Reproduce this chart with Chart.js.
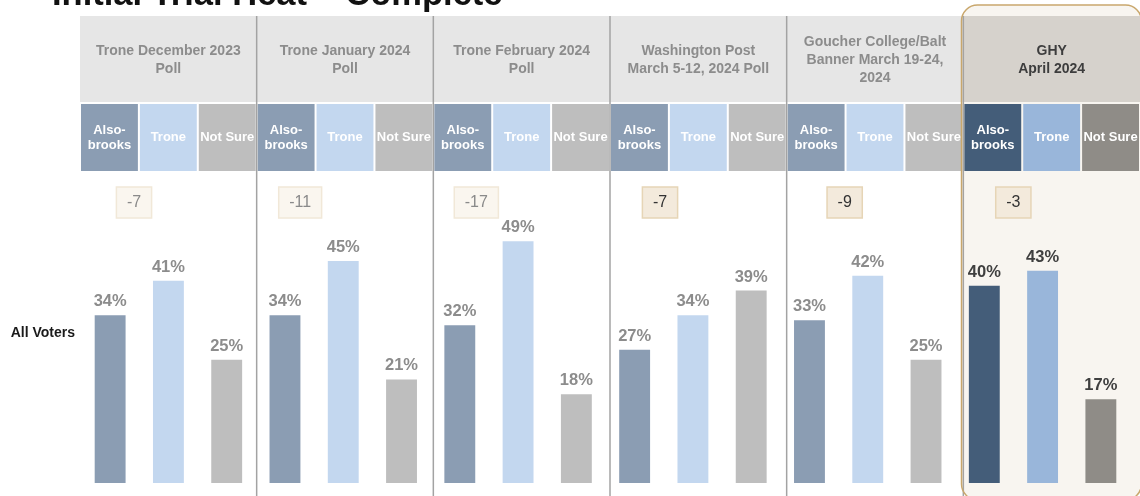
<!DOCTYPE html>
<html>
<head>
<meta charset="utf-8">
<script src="https://cdn.jsdelivr.net/npm/chart.js@4.4.1/dist/chart.umd.min.js"></script>
<style>
  html, body { margin: 0; padding: 0; background: #fff; }
  canvas { display: block; }
</style>
</head>
<body>
<canvas id="graficaEncuestas" width="1140" height="496"></canvas>
<script>
const titulo = 'Initial Trial Heat – Complete';
const etiquetaFila = 'All Voters';
const encuestas = [
    ['Trone December 2023', 'Poll'],
    ['Trone January 2024', 'Poll'],
    ['Trone February 2024', 'Poll'],
    ['Washington Post', 'March 5-12, 2024 Poll'],
    ['Goucher College/Balt', 'Banner March 19-24,', '2024'],
    ['GHY', 'April 2024']
];
const candidatos = [['Also-', 'brooks'], ['Trone'], ['Not Sure']];
const alsobrooks = [34, 34, 32, 27, 33, 40];
const trone = [41, 45, 49, 34, 42, 43];
const noSeguro = [25, 21, 18, 39, 25, 17];
const margenes = [-7, -11, -17, -7, -9, -3];

// colores: encuestas normales y la de GHY (resaltada)
const coloresNormal = ['#8b9db3', '#c3d7ef', '#bebebe'];
const coloresGHY = ['#445d79', '#99b6da', '#8f8c87'];
const esGHY = i => i === encuestas.length - 1;
const colorBarra = (serie) => encuestas.map((e, i) => esGHY(i) ? coloresGHY[serie] : coloresNormal[serie]);

// geometria de la cabecera
const CAB_IZQ = 80, CAB_DER = 1140;
const FILA1 = [16, 102], FILA2 = [104, 171];
const desplazCaja = [54, 43.5, 43, 50, 58, 50];
const FUENTE = '"Liberation Sans", Arial, sans-serif';

function roundRect(ctx, x, y, w, h, r) {
    ctx.beginPath();
    ctx.moveTo(x + r, y);
    ctx.arcTo(x + w, y, x + w, y + h, r);
    ctx.arcTo(x + w, y + h, x, y + h, r);
    ctx.arcTo(x, y + h, x, y, r);
    ctx.arcTo(x, y, x + w, y, r);
    ctx.closePath();
}

const panel = { x: 961.5, y: 5, w: 180, h: 495, r: 16 };

const fondo = {
    id: 'fondo',
    beforeDraw(chart) {
        const ctx = chart.ctx;
        const anchoGrupo = (CAB_DER - CAB_IZQ) / encuestas.length;
        const anchoSub = anchoGrupo / 3;
        ctx.save();
        ctx.fillStyle = '#fff';
        ctx.fillRect(0, 0, chart.width, chart.height);

        // titulo (cortado arriba como en la imagen)
        ctx.fillStyle = '#111';
        ctx.font = 'bold 34.5px ' + FUENTE;
        ctx.textAlign = 'left';
        ctx.textBaseline = 'alphabetic';
        ctx.fillText(titulo, 52, 5);

        // panel GHY
        roundRect(ctx, panel.x, panel.y, panel.w, panel.h, panel.r);
        ctx.fillStyle = '#f8f5f0';
        ctx.fill();

        encuestas.forEach((lineas, i) => {
            const x0 = CAB_IZQ + i * anchoGrupo;
            const ghy = esGHY(i);
            ctx.save();
            if (ghy) {
                roundRect(ctx, panel.x, panel.y, panel.w, panel.h, panel.r);
                ctx.clip();
            }
            ctx.fillStyle = ghy ? '#d6d2cc' : '#e6e6e6';
            ctx.fillRect(x0, FILA1[0], anchoGrupo, FILA1[1] - FILA1[0]);
            ctx.fillStyle = ghy ? '#3d3d3d' : '#8c8c8c';
            ctx.font = 'bold 14px ' + FUENTE;
            ctx.textAlign = 'center';
            ctx.textBaseline = 'middle';
            const cy = (FILA1[0] + FILA1[1]) / 2 + 1;
            lineas.forEach((t, k) => {
                ctx.fillText(t, x0 + anchoGrupo / 2, cy + (k - (lineas.length - 1) / 2) * 18);
            });

            const cols = ghy ? coloresGHY : coloresNormal;
            candidatos.forEach((c, j) => {
                const sx = x0 + j * anchoSub;
                ctx.fillStyle = cols[j];
                ctx.fillRect(sx + 1, FILA2[0], anchoSub - 2, FILA2[1] - FILA2[0]);
                ctx.fillStyle = '#fff';
                ctx.font = 'bold 13px ' + FUENTE;
                const cy2 = (FILA2[0] + FILA2[1]) / 2;
                c.forEach((t, k) => {
                    ctx.fillText(t, sx + anchoSub / 2, cy2 + (k - (c.length - 1) / 2) * 15);
                });
            });
            ctx.restore();

            // caja de margen
            ctx.font = '16px ' + FUENTE;
            const txt = String(margenes[i]);
            const w = ctx.measureText(txt).width + 21;
            const cx = x0 + desplazCaja[i];
            const fuerte = i >= 3;
            ctx.fillStyle = fuerte ? '#f3eadc' : '#faf6ef';
            ctx.strokeStyle = fuerte ? '#e6d5b6' : '#f1e8d8';
            ctx.lineWidth = 1.5;
            ctx.fillRect(cx - w / 2, 187, w, 31);
            ctx.strokeRect(cx - w / 2, 187, w, 31);
            ctx.fillStyle = fuerte ? '#333' : '#8a8a8a';
            ctx.textAlign = 'center';
            ctx.textBaseline = 'middle';
            ctx.fillText(txt, cx, 203);
        });

        // divisores
        ctx.strokeStyle = '#a3a3a3';
        ctx.lineWidth = 1.5;
        for (let i = 1; i < encuestas.length; i++) {
            const x = CAB_IZQ + i * anchoGrupo;
            ctx.beginPath();
            ctx.moveTo(x, FILA1[0]);
            ctx.lineTo(x, chart.height);
            ctx.stroke();
        }

        ctx.fillStyle = '#1a1a1a';
        ctx.font = 'bold 14px ' + FUENTE;
        ctx.textAlign = 'right';
        ctx.textBaseline = 'middle';
        ctx.fillText(etiquetaFila, 75, 333);
        ctx.restore();
    },
    afterDatasetsDraw(chart) {
        const ctx = chart.ctx;
        ctx.save();
        ctx.font = 'bold 16.5px ' + FUENTE;
        ctx.textAlign = 'center';
        ctx.textBaseline = 'alphabetic';
        chart.data.datasets.forEach((ds, d) => {
            chart.getDatasetMeta(d).data.forEach((bar, i) => {
                ctx.fillStyle = esGHY(i) ? '#3f3f3f' : '#8c8c8c';
                ctx.fillText(ds.data[i] + '%', bar.x, bar.y - 9);
            });
        });
        roundRect(ctx, panel.x, panel.y, panel.w, panel.h, panel.r);
        ctx.strokeStyle = '#c9a76c';
        ctx.lineWidth = 1.5;
        ctx.stroke();
        ctx.restore();
    }
};

new Chart(document.getElementById('graficaEncuestas'), {
    type: 'bar',
    data: {
        labels: encuestas.map(e => e.join(' ')),
        datasets: [
            { label: 'Alsobrooks', data: alsobrooks, backgroundColor: colorBarra(0) },
            { label: 'Trone', data: trone, backgroundColor: colorBarra(1) },
            { label: 'Not Sure', data: noSeguro, backgroundColor: colorBarra(2) }
        ]
    },
    options: {
        responsive: false,
        devicePixelRatio: 1,
        animation: false,
        layout: { padding: { left: 81, right: 10, top: 187, bottom: 13 } },
        datasets: { bar: { categoryPercentage: 1, barPercentage: 0.53 } },
        plugins: {
            legend: { display: false },
            tooltip: { enabled: false },
            title: { display: false }
        },
        scales: {
            x: { display: false },
            y: { display: false, min: 0, max: 60 }
        }
    },
    plugins: [fondo]
});
</script>
</body>
</html>
